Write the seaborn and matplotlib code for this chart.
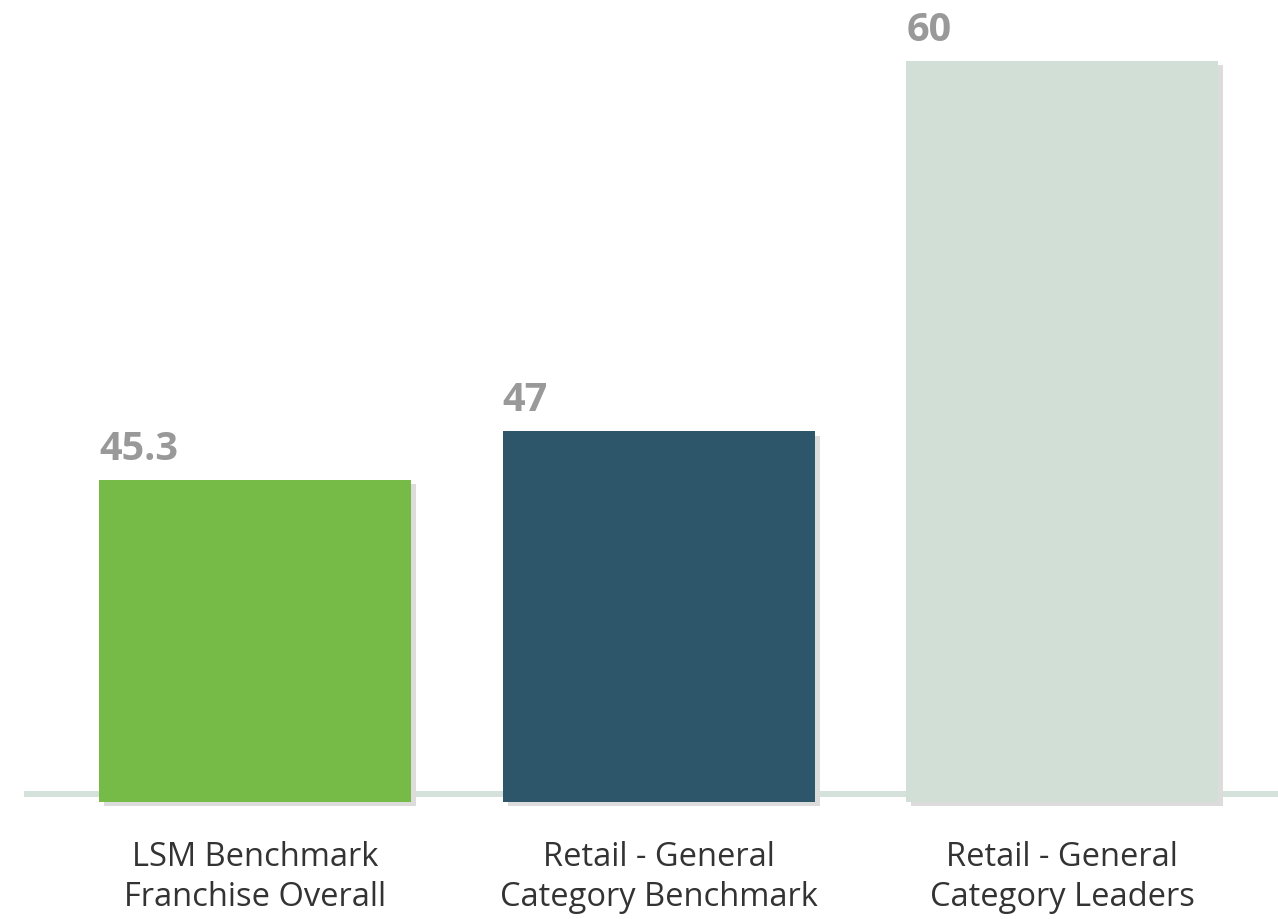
import matplotlib
matplotlib.use("Agg")
import matplotlib.pyplot as plt
import matplotlib.patheffects as pe
import seaborn as sns
import pandas as pd

categories = ["LSM Benchmark\nFranchise Overall",
              "Retail - General\nCategory Benchmark",
              "Retail - General\nCategory Leaders"]
values = [45.3, 47, 60]
colors = ["#76bb47", "#2d566b", "#d1dfd7"]

y_min, y_max = 34.0, 62.14
bar_width = 0.773

sns.set_theme(style="white")
plt.rcParams["font.family"] = ["Open Sans", "DejaVu Sans"]

fig = plt.figure(figsize=(12.78, 9.19), dpi=100)
ax = fig.add_axes([24 / 1278, 117 / 919, 1254 / 1278, 802 / 919])

df = pd.DataFrame({"category": categories, "value": values})
sns.barplot(data=df, x="category", y="value", hue="category",
            palette=colors, legend=False, width=bar_width,
            saturation=1, ax=ax, zorder=3)

shadow = [pe.SimplePatchShadow(offset=(3.6, -3.2), shadow_rgbFace="#dcdcdc", alpha=1.0),
          pe.Normal()]
for patch, v in zip(ax.patches, values):
    patch.set_y(y_min)
    patch.set_height(v - y_min)
    patch.set_clip_on(False)
    patch.set_edgecolor("none")
    patch.set_path_effects(shadow)

ax.set_ylim(y_min, y_max)
ax.set_xlim(-0.5725, 2.535)

# thin baseline running behind the bars
ax.plot([0, 1], [8 / 802, 8 / 802], transform=ax.transAxes,
        color="#d5e1db", lw=4.3, solid_capstyle="butt", zorder=2)

for i, v in enumerate(values):
    ax.annotate(f"{v:g}", xy=(i - bar_width / 2, v), xytext=(0, 14.5),
                textcoords="offset points", ha="left", va="baseline",
                fontsize=28.5, fontweight="bold", color="#999999")

ax.set_xlabel("")
ax.set_ylabel("")
ax.set_yticks([])
ax.tick_params(axis="x", length=0, pad=28, labelsize=23.5, labelcolor="#333333")
for lbl in ax.get_xticklabels():
    lbl.set_linespacing(1.3)
sns.despine(ax=ax, left=True, bottom=True)

fig.savefig("out.png", dpi=100)
